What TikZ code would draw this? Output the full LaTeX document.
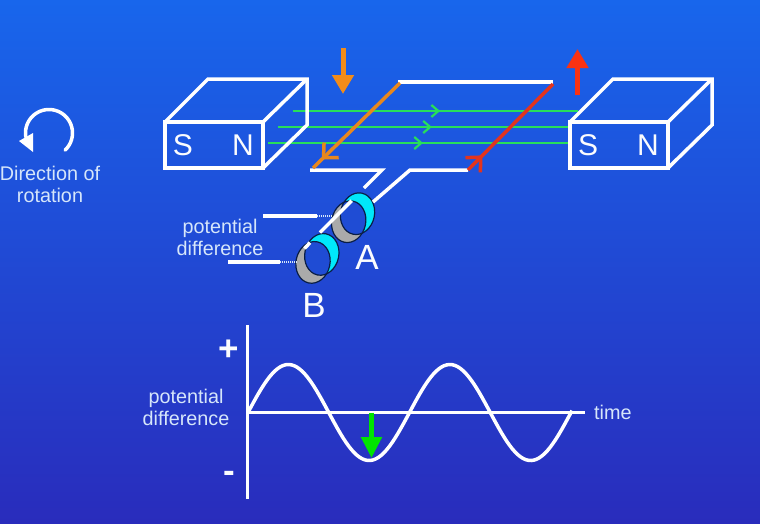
\documentclass[tikz,border=0pt]{standalone}
\usepackage{xcolor}
\usepackage{fontspec}
\setmainfont{Liberation Sans}
\usetikzlibrary{arrows.meta,decorations.markings}
\definecolor{bgtop}{RGB}{24,102,236}
\definecolor{bgbottom}{RGB}{41,44,188}
\definecolor{holeblue}{RGB}{31,76,212}
\definecolor{labelcol}{RGB}{214,230,250}
\definecolor{fieldgreen}{RGB}{40,222,90}
\definecolor{wireorange}{RGB}{232,135,30}
\definecolor{wirered}{RGB}{226,52,30}
\definecolor{arroworange}{RGB}{242,140,25}
\definecolor{arrowred}{RGB}{250,50,18}
\definecolor{ringcyan}{RGB}{0,232,250}
\definecolor{ringgray}{RGB}{170,170,170}
\definecolor{ringline}{RGB}{10,30,70}
\tikzset{
    wire/.style={draw=white, line width=3.5pt},
    labeltext/.style={text=labelcol, font=\fontsize{19.8}{22}\selectfont, align=center, inner sep=0pt},
    poletext/.style={text=white!90!labelcol, font=\fontsize{30}{30}\selectfont, inner sep=0pt},
    ringtext/.style={text=white!90!labelcol, font=\fontsize{35}{35}\selectfont, inner sep=0pt},
    signtext/.style={text=white!90!labelcol, font=\fontsize{35}{35}\selectfont\bfseries, inner sep=0pt},
    bigarrow/.style={-{Triangle[length=19pt,width=21pt]}, line width=5pt},
    fieldline/.style={draw=fieldgreen, line width=2.2pt, postaction={decorate},
        decoration={markings, mark=at position #1 with {\arrow{Straight Barb[length=7pt,width=12pt]}}}},
    coilarrow/.style={line width=3.5pt, postaction={decorate},
        decoration={markings, mark=at position #1 with {\arrow{Straight Barb[length=11pt,width=21pt]}}}}
}
\begin{document}
\begin{tikzpicture}[x=1pt, y=-1pt]
    \shade[top color=bgtop, bottom color=bgbottom] (0,0) rectangle (760,523);
    \useasboundingbox (0,0) rectangle (760,523);

    % Field lines
    \draw[fieldline=0.516] (293,111) -- (578,111);
    \draw[fieldline=0.527] (278,127) -- (570,127);
    \draw[fieldline=0.513] (268,143) -- (570,143);

    % Magnets
    \foreach \mx/\mname in {0/left, 405/right} {
        \begin{scope}[xshift=\mx pt]
            \draw[wire, line join=miter] (165,122) rectangle (263,168);
            \draw[wire] (165,122) -- (208,79) -- (307,79) -- (307,125) -- (263,168);
            \draw[wire] (263,122) -- (307,79);
            \node[poletext] (s\mname) at (183,145) {S};
            \node[poletext] (n\mname) at (243,145) {N};
        \end{scope}
    }

    % Slip rings
    \foreach \rx/\ry in {0/0, -35.7/40.7} {
        \begin{scope}[shift={(\rx,\ry)}]
            \fill[ringcyan] (357.5,213.7) ellipse [x radius=17, y radius=21, rotate=-12];
            \fill[ringgray] (348.7,221.7) ellipse [x radius=17, y radius=21, rotate=-12];
            \begin{scope}
                \clip (357.5,213.7) ellipse [x radius=17, y radius=21, rotate=-12];
                \fill[holeblue] (348.7,221.7) ellipse [x radius=17, y radius=21, rotate=-12];
            \end{scope}
            \draw[ringline, line width=1.2pt] (357.5,213.7) ellipse [x radius=17, y radius=21, rotate=-12];
            \draw[ringline, line width=1.2pt] (348.7,221.7) ellipse [x radius=17, y radius=21, rotate=-12];
        \end{scope}
    }

    % Coil
    \draw[wire] (398,82) -- (553,82);
    \draw[wire] (310,170) -- (382,170) -- (364,188);
    \draw[wire] (351.7,200.7) -- (320,232.5);
    \draw[wire] (310,242.6) -- (304.5,248.5);
    \draw[wire] (468,170) -- (410,170) -- (373,202);
    \draw[coilarrow=0.9, draw=wireorange] (400,83) -- (313,168);
    \draw[coilarrow=0.17, draw=wirered] (468,170) -- (553,84);

    % Motion arrows
    \draw[bigarrow, draw=arroworange, fill=arroworange] (343,48) -- (343,94);
    \draw[bigarrow, draw=arrowred, fill=arrowred] (577.5,95) -- (577.5,49);

    % Terminals
    \draw[wire] (263,216) -- (317,216);
    \draw[wire] (228,262) -- (280,262);
    \draw[labelcol, line width=2.5pt, dash pattern=on 1pt off 1pt] (317,216) -- (332,216);
    \draw[labelcol, line width=2.5pt, dash pattern=on 1pt off 1pt] (280,262) -- (297,262);
    \node[labeltext] (pdtop) at (220,237) {potential\\difference};
    \node[ringtext] (ringa) at (367,257) {A};
    \node[ringtext] (ringb) at (314,305) {B};

    % Rotation
    \draw[white, line width=3.5pt, line cap=round] plot[domain=47:-190, samples=40] ({49+23.5*cos(\x)}, {133+23.5*sin(\x)});
    \fill[white] (19,141) -- (33,133) -- (33,152) -- cycle;
    \node[labeltext] (rotlabel) at (50,184) {Direction of\\rotation};

    % Graph
    \draw[white, line width=3.5pt] plot[domain=0:324, samples=120] ({248+\x}, {412.5-48*sin(\x/161.5*360)});
    \draw[wire] (247.7,325) coordinate (ytop) -- (247.7,499) coordinate (ybot);
    \draw[wire] (247.7,412.5) coordinate (orig) -- (585,412.5) coordinate (xend);
    \draw[bigarrow, green!90!black, -{Triangle[length=21pt,width=20pt]}] (371.5,412.5) -- (371.5,458);
    \node[signtext] (plus) at (229,350) {+};
    \node[signtext] (minus) at (229,477) {-};
    \node[labeltext] (pdgraph) at (186,407) {potential\\difference};
    \node[labeltext, right=9pt] (timelabel) at (xend) {time};
\end{tikzpicture}
\end{document}
